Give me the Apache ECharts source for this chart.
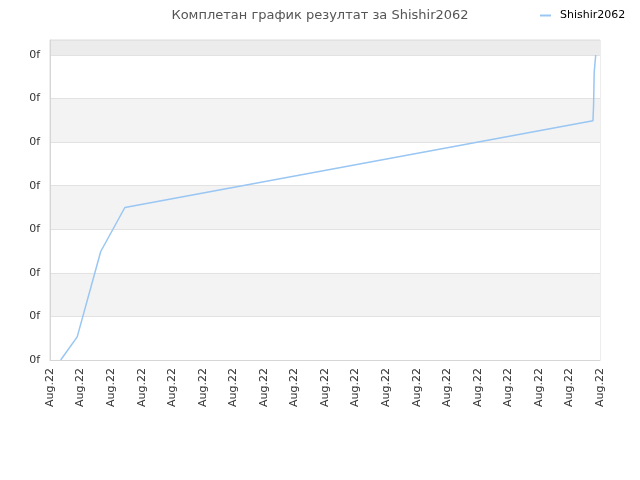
<!DOCTYPE html>
<html>
<head>
<meta charset="utf-8">
<script src="https://cdn.jsdelivr.net/npm/echarts@6/dist/echarts.min.js"></script>
<style>html,body{margin:0;padding:0;background:#fff}#c{width:640px;height:480px}</style>
</head>
<body>
<div id="c"></div>
<script>
var chartTitle = 'Комплетан график резултат за Shishir2062';
var seriesName = 'Shishir2062';
var xTickLabels = ['Aug.22','Aug.22','Aug.22','Aug.22','Aug.22','Aug.22','Aug.22','Aug.22','Aug.22','Aug.22','Aug.22','Aug.22','Aug.22','Aug.22','Aug.22','Aug.22','Aug.22','Aug.22','Aug.22'];
var yTickLabel = '0f';
var xValues = [0.35, 0.89, 1.66, 2.45, 17.77, 17.79, 17.81, 17.86];
var yValues = [0, 0.53, 2.49, 3.50, 5.49, 5.85, 6.60, 7.0];

var data = xValues.map(function (x, i) { return [x, yValues[i]]; });
var chart = echarts.init(document.getElementById('c'));
chart.setOption({
  animation: false,
  title: {
    text: chartTitle, left: 'center', top: 4,
    textStyle: { fontFamily: 'DejaVu Sans', fontSize: 13, fontWeight: 'normal', color: '#555' }
  },
  legend: {
    left: 535, top: 5, icon: 'rect', itemWidth: 11, itemHeight: 2, itemGap: 6,
    textStyle: { fontFamily: 'DejaVu Sans', fontSize: 11, color: '#000', padding: [0, 0, 0, 4] },
    data: [seriesName]
  },
  grid: { left: 50, right: 40, top: 40, bottom: 120, show: true, borderColor: '#dcdcdc', borderWidth: 1, backgroundColor: 'transparent' },
  xAxis: {
    type: 'value', min: 0, max: xTickLabels.length - 1, interval: 1,
    axisLine: { show: true, lineStyle: { color: '#d6d6d6' } },
    axisTick: { show: false },
    splitLine: { show: false },
    axisLabel: {
      rotate: 90, margin: 8, color: '#333', fontFamily: 'DejaVu Sans', fontSize: 11,
      formatter: function (v) { return xTickLabels[Math.round(v)] || ''; }
    }
  },
  yAxis: {
    type: 'value', min: 0, max: 7.344, interval: 1,
    axisLine: { show: true, lineStyle: { color: '#d6d6d6' } },
    axisTick: { show: false },
    splitLine: { show: true, lineStyle: { color: '#e2e2e2' } },
    splitArea: { show: true, areaStyle: { color: ['#ffffff', '#f3f3f3', '#ffffff', '#f3f3f3', '#ffffff', '#f3f3f3', '#ffffff', '#ececec'] } },
    axisLabel: {
      margin: 10, color: '#333', fontFamily: 'DejaVu Sans', fontSize: 11, showMaxLabel: false,
      formatter: function (v) { return v > 7.01 ? '' : yTickLabel; }
    }
  },
  series: [{
    name: seriesName, type: 'line', data: data, showSymbol: false, symbol: 'none',
    lineStyle: { color: '#99c6f3', width: 1.5 }, itemStyle: { color: '#99c6f3' }
  }]
});
</script>
</body>
</html>
